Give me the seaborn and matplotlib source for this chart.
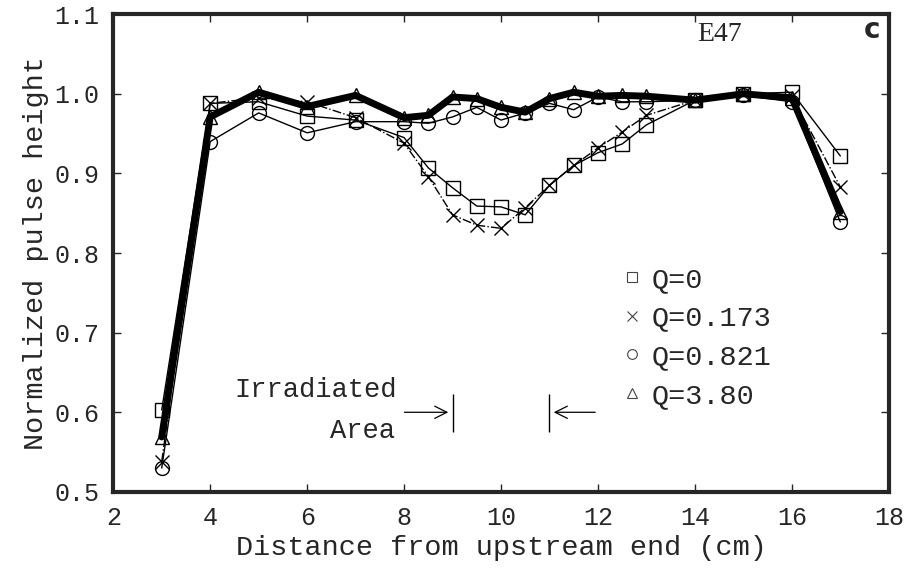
import numpy as np
import pandas as pd
import matplotlib
matplotlib.use("Agg")
import matplotlib.pyplot as plt
from matplotlib.lines import Line2D
import seaborn as sns

# 数据：距离上游端 (cm) 与归一化脉冲高度
distance = [3, 4, 5, 6, 7, 8, 8.5, 9, 9.5, 10, 10.5, 11, 11.5, 12, 12.5, 13, 14, 15, 16, 17]
q_0 = [0.603, 0.988, 0.990, 0.972, 0.967, 0.945, 0.907, 0.882, 0.859, 0.858, 0.848, 0.885,
       0.910, 0.926, 0.937, 0.961, 0.992, 1.000, 1.002, 0.922]
q_0173 = [0.538, 0.988, 0.995, 0.990, 0.970, 0.938, 0.896, 0.848, 0.835, 0.831, 0.857, 0.885,
          0.910, 0.932, 0.952, 0.973, 0.992, 1.000, 0.997, 0.883]
q_0821 = [0.530, 0.940, 0.976, 0.951, 0.965, 0.965, 0.963, 0.971, 0.983, 0.967, 0.976, 0.988,
          0.980, 0.996, 0.990, 0.990, 0.992, 0.998, 0.990, 0.839]
q_380 = [0.569, 0.971, 1.002, 0.984, 0.998, 0.970, 0.973, 0.996, 0.994, 0.983, 0.977, 0.994,
         1.002, 0.997, 0.998, 0.997, 0.992, 1.000, 0.995, 0.852]
labels = ['Q=0', 'Q=0.173', 'Q=0.821', 'Q=3.80']
x_ticks = [2, 4, 6, 8, 10, 12, 14, 16, 18]
y_ticks = [0.5, 0.6, 0.7, 0.8, 0.9, 1.0, 1.1]

sns.set_style("ticks")
plt.rcParams['font.family'] = ['Liberation Mono', 'DejaVu Sans Mono']

fig = plt.figure(figsize=(9.06, 5.68), dpi=100)
ax = fig.add_axes([0.125, 0.134, 0.856, 0.841])

# 各系列样式
styles = [
    dict(y=q_0, marker='s', lw=1.0, ls='-'),
    dict(y=q_0173, marker='x', lw=1.0, ls='-.'),
    dict(y=q_0821, marker='o', lw=1.0, ls='-'),
    dict(y=q_380, marker='^', lw=5.0, ls='-'),
]
for st in styles:
    sns.lineplot(x=distance, y=st['y'], ax=ax, color='black', linewidth=st['lw'],
                 linestyle=st['ls'], marker=st['marker'], markersize=10,
                 markerfacecolor='none', markeredgecolor='black', markeredgewidth=1.0,
                 zorder=3 if st['lw'] > 2 else 2)

ax.set_xlim(2, 18)
ax.set_ylim(0.5, 1.1)
ax.set_xticks(x_ticks)
ax.set_yticks(y_ticks)
ax.set_yticklabels([f'{v:.1f}' for v in y_ticks])
ax.tick_params(direction='in', length=6, width=1, labelsize=18, top=True, right=True, pad=10)
for sp in ax.spines.values():
    sp.set_linewidth(3)
ax.set_xlabel('Distance from upstream end (cm)', fontsize=20.5, labelpad=4)
ax.set_ylabel('Normalized pulse height', fontsize=20.5, labelpad=4)

# 图例（只有标记）
handles = [Line2D([], [], ls='none', marker=m, color='#444444', markerfacecolor='none',
                  markersize=7, markeredgewidth=0.8) for m in ['s', 'x', 'o', '^']]
ax.legend(handles, labels, loc='upper left', bbox_to_anchor=(0.625, 0.525), frameon=False,
          fontsize=20.5, handlelength=0.6, handletextpad=0.4, labelspacing=0.45)

# 标注
ax.text(14.5, 1.075, 'E47', fontsize=20, ha='center', va='center', family='Liberation Serif')
ax.text(17.65, 1.08, 'c', fontsize=20, fontweight='bold', ha='center', va='center',
        family='DejaVu Sans')
ax.text(6.17, 0.628, 'Irradiated', fontsize=19.5, ha='center', va='center')
ax.text(7.15, 0.576, 'Area', fontsize=19.5, ha='center', va='center')
ax.annotate('', xy=(8.97, 0.6), xytext=(7.95, 0.6),
            arrowprops=dict(arrowstyle='->', lw=0.9, color='black', mutation_scale=22))
ax.annotate('', xy=(11.03, 0.6), xytext=(12.0, 0.6),
            arrowprops=dict(arrowstyle='->', lw=0.9, color='black', mutation_scale=22))
ax.vlines([9, 11], 0.575, 0.623, color='black', lw=1.0)

fig.savefig('out.png', dpi=100)
